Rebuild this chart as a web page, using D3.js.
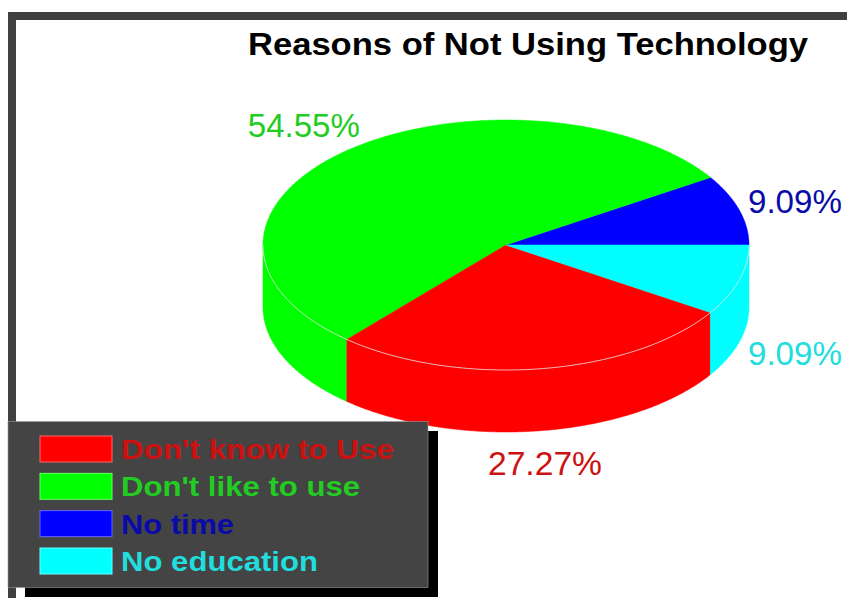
<!DOCTYPE html>
<html><head><meta charset="utf-8">
<script src="https://cdn.jsdelivr.net/npm/d3@7"></script>
<style>html,body{margin:0;padding:0;background:#fff;}svg{display:block;font-family:"Liberation Sans",Arial,sans-serif;}</style>
</head><body>
<script>
// Legend order
const categories = ["Don't know to Use", "Don't like to use", "No time", "No education"];
const sliceColors = ["#ff0000", "#00ff00", "#0000ff", "#00ffff"];
const textColors = ["#cc1111", "#22cc22", "#0a0aa8", "#22dddd"];
const counts = [3, 6, 1, 1];
const percentLabels = ["27.27%", "54.55%", "9.09%", "9.09%"];
// drawing order around the pie, counter-clockwise from 3 o'clock
const pieOrder = [2, 1, 0, 3];
const title = "Reasons of Not Using Technology";

const W = 847, H = 598;
const svg = d3.select("body").append("svg").attr("width", W).attr("height", H);

// frame
svg.append("rect").attr("x", 8).attr("y", 12).attr("width", W - 8).attr("height", 8).attr("fill", "#404040");
svg.append("rect").attr("x", 8).attr("y", 12).attr("width", 8).attr("height", H - 12).attr("fill", "#404040");

svg.append("text").attr("x", 248).attr("y", 55)
  .attr("font-size", 31).attr("font-weight", "bold").attr("fill", "#000")
  .attr("textLength", 560).attr("lengthAdjust", "spacingAndGlyphs").text(title);

const cx = 506, cy = 245, rx = 243, ry = 125, depth = 62;
const pie = d3.pie().sort(null).value(i => counts[i]).startAngle(0).endAngle(2 * Math.PI);
const arcs = pie(pieOrder);
const px = t => cx + rx * Math.cos(t);
const py = (t, d = 0) => cy - ry * Math.sin(t) + d;

function arcPts(t0, t1, d) {
  const n = Math.max(2, Math.ceil(Math.abs(t1 - t0) / 0.01));
  return d3.range(n + 1).map(k => { const t = t0 + (t1 - t0) * k / n; return [px(t), py(t, d)]; });
}
const line = d3.line();

// sides (front half: angles between PI and 2PI)
arcs.forEach(a => {
  const s = Math.max(a.startAngle, Math.PI), e = Math.min(a.endAngle, 2 * Math.PI);
  if (e <= s) return;
  const pts = arcPts(s, e, 0).concat(arcPts(e, s, depth));
  svg.append("path").attr("d", line(pts) + "Z").attr("fill", sliceColors[a.data]).attr("stroke", sliceColors[a.data]).attr("stroke-width", 0.5);
});
// tops
arcs.forEach(a => {
  const pts = [[cx, cy]].concat(arcPts(a.startAngle, a.endAngle, 0));
  svg.append("path").attr("d", line(pts) + "Z").attr("fill", sliceColors[a.data]).attr("stroke", sliceColors[a.data]).attr("stroke-width", 0.5);
});
// rim highlight
svg.append("path").attr("d", line(arcPts(Math.PI, 2 * Math.PI, 0))).attr("fill", "none")
  .attr("stroke", "#e6e6e6").attr("stroke-width", 0.8);

// percent labels (offset from each slice's mid-angle rim point)
const nudges = {0: [-52.6, 106.3, 114], 1: [-99, -13.5, 112], 2: [8.8, 3.2, 94], 3: [8.8, 84.8, 94]};
arcs.forEach(a => {
  const m = (a.startAngle + a.endAngle) / 2;
  const [dx, dy, len] = nudges[a.data];
  svg.append("text").attr("x", px(m) + dx).attr("y", py(m) + dy)
    .attr("font-size", 34).attr("fill", textColors[a.data])
    .attr("textLength", len).attr("lengthAdjust", "spacingAndGlyphs").text(percentLabels[a.data]);
});

// legend
const legendLens = [273, 239, 113, 197];
svg.append("rect").attr("x", 25).attr("y", 431).attr("width", 413).attr("height", 166).attr("fill", "#000");
svg.append("rect").attr("x", 8).attr("y", 421.5).attr("width", 420).attr("height", 166).attr("fill", "#444")
  .attr("stroke", "#999").attr("stroke-width", 0.6);
const ly = d3.scalePoint().domain(d3.range(categories.length)).range([449, 561]);
categories.forEach((c, i) => {
  svg.append("rect").attr("x", 40).attr("y", ly(i) - 13).attr("width", 72).attr("height", 26)
    .attr("fill", sliceColors[i]).attr("stroke", d3.interpolateRgb(sliceColors[i], "#fff")(0.4)).attr("stroke-width", 1);
  svg.append("text").attr("x", 121).attr("y", ly(i) + 10)
    .attr("font-size", 28).attr("font-weight", "bold").attr("fill", textColors[i])
    .attr("textLength", legendLens[i]).attr("lengthAdjust", "spacingAndGlyphs").text(c);
});
</script>
</body></html>
